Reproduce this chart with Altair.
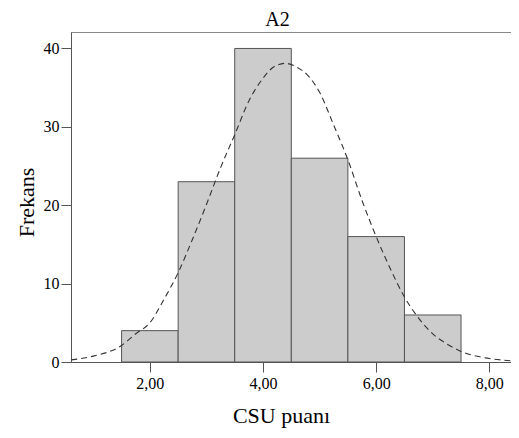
import altair as alt
import pandas as pd

# Histogram bins (CSU puanı) and frequencies
bin_start = [1.5, 2.5, 3.5, 4.5, 5.5, 6.5]
bin_end = [2.5, 3.5, 4.5, 5.5, 6.5, 7.5]
counts = [4, 23, 40, 26, 16, 6]

# Normal curve
curve_x = [0.61, 1.0, 1.5, 1.75, 2.0, 2.25, 2.5, 2.75, 3.0, 3.25, 3.5, 3.75, 4.0, 4.2, 4.4,
           4.6, 4.8, 5.0, 5.25, 5.5, 5.75, 6.0, 6.25, 6.5, 6.75, 7.0, 7.25, 7.5, 8.0, 8.38]
curve_y = [0.27, 0.75, 2.1, 3.6, 5.0, 8.0, 11.4, 15.6, 20.1, 24.8, 29.0, 33.3, 36.2, 37.7, 38.1,
           37.6, 36.5, 34.4, 30.2, 25.8, 20.6, 16.0, 11.9, 8.3, 5.6, 3.6, 2.3, 1.35, 0.45, 0.16]

x_ticks = [2, 4, 6, 8]
y_ticks = [0, 10, 20, 30, 40]
chart_title = ["A2"]

bars_df = pd.DataFrame({"start": bin_start, "end": bin_end, "count": counts})
curve_df = pd.DataFrame({"x": curve_x, "y": curve_y})
title_df = pd.DataFrame({"t": chart_title})

FONT = "Liberation Serif"
xscale = alt.Scale(domain=[0.606, 8.383], nice=False, zero=False)
yscale = alt.Scale(domain=[0, 42.1], nice=False)

xaxis = alt.Axis(
    values=x_ticks,
    labelExpr="replace(format(datum.value, '.2f'), '.', ',')",
    title="CSU puanı",
    titleX=210, titleY=60, titleBaseline="alphabetic",
    grid=False, tickSize=10, labelPadding=3,
)
yaxis = alt.Axis(
    values=y_ticks, format="d", title="Frekans",
    titleX=-38, titleY=170, titleBaseline="alphabetic",
    grid=False, tickSize=10, labelPadding=2,
)

bars = alt.Chart(bars_df).mark_rect(
    fill="#cccccc", stroke="#555555", strokeWidth=1
).encode(
    x=alt.X("start:Q", scale=xscale, axis=xaxis),
    x2="end:Q",
    y=alt.Y("count:Q", scale=yscale, axis=yaxis),
    y2=alt.Y2(datum=0),
)

curve = alt.Chart(curve_df).mark_line(
    color="#333333", strokeWidth=1.1, strokeDash=[6, 4], interpolate="monotone"
).encode(
    x=alt.X("x:Q", scale=xscale),
    y=alt.Y("y:Q", scale=yscale),
)

title = alt.Chart(title_df).mark_text(
    font=FONT, fontSize=20, color="#000000", baseline="alphabetic", align="center"
).encode(
    text="t:N",
    x=alt.value(206.5),
    y=alt.value(-6),
)

chart = alt.layer(bars, curve, title).properties(
    width=440, height=330,
    autosize=alt.AutoSizeParams(type="none"),
    padding={"left": 63, "top": 24, "right": 0, "bottom": 66},
).configure_view(
    stroke="#888888", strokeWidth=1
).configure_text(
    font=FONT
).configure_axis(
    labelFont=FONT, titleFont=FONT, labelFontSize=16, titleFontSize=22,
    titleFontWeight="normal", labelColor="#000000", titleColor="#000000",
    domainColor="#555555", tickColor="#555555", domainWidth=1, tickWidth=1,
)

chart.save("out.html", embed_options={"renderer": "svg", "actions": False})
